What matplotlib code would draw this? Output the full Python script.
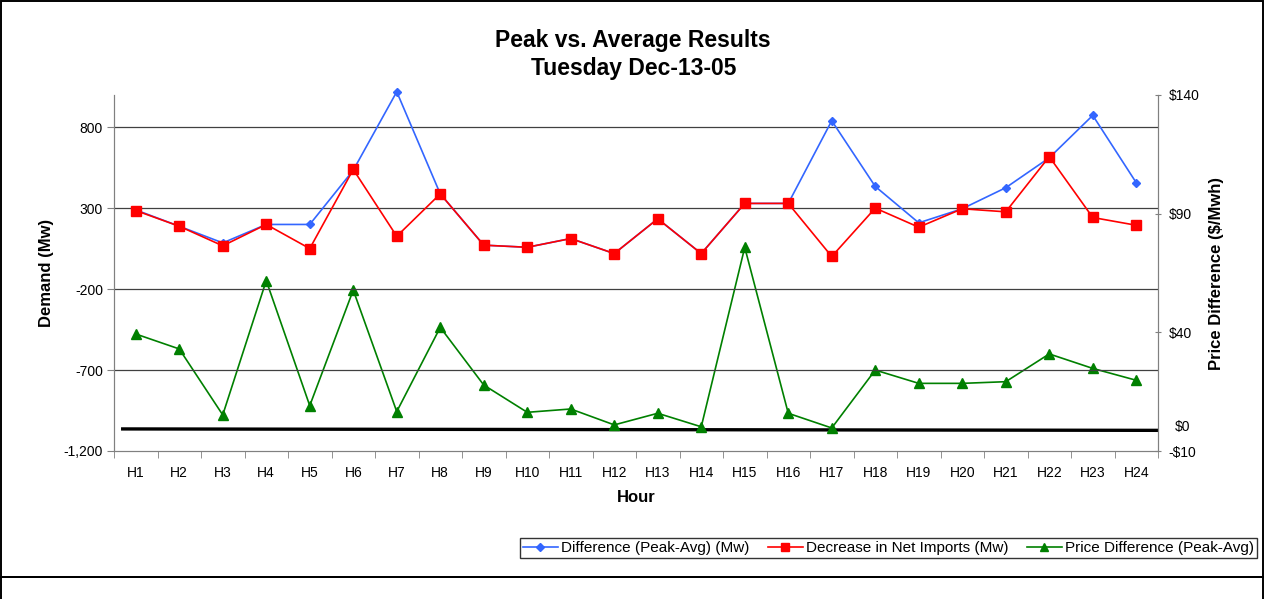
import numpy as np
import matplotlib
matplotlib.use('Agg')
from matplotlib import pyplot as plt
from matplotlib.patches import Rectangle
from matplotlib.lines import Line2D

plt.rcParams['font.family'] = ['Liberation Sans', 'DejaVu Sans']

#### DATA ####
hours = ['H' + str(i) for i in range(1, 25)]

diff_mw = [290, 189, 86, 200, 200, 535, 1020, 389, 72, 59, 113, 20,
           235, 20, 330, 330, 841, 435, 210, 297, 427, 612, 874, 458]
net_imports = [286, 189, 68, 200, 51, 540, 127, 389, 72, 59, 113, 20,
               235, 20, 330, 330, 2, 301, 183, 297, 278, 619, 243, 195]
price_diff = [39.3, 33.0, 5.2, 61.8, 9.1, 57.8, 6.6, 42.1, 17.8, 6.3, 7.7, 1.0,
              5.9, 0.2, 75.8, 5.9, -0.3, 24.1, 18.5, 18.5, 19.2, 30.9, 24.8, 19.8]

# black base line (right axis)
baseline_x = [-0.3, 23.5]
baseline_y = [-0.7, -1.3]

left_ticks = [-1200, -700, -200, 300, 800]
left_labels = ['-1,200', '-700', '-200', '300', '800']
right_ticks = [-10, 40, 90, 140]
right_labels = ['-$10', '$40', '$90', '$140']

W, H = 1264, 599
fig = plt.figure(figsize=(W / 100, H / 100), dpi=100)

# outer frames
fig.add_artist(Rectangle((0.5 / W, 1 - 577 / H), 1 - 1.5 / W, 577 / H - 0.5 / H,
                         transform=fig.transFigure, fill=False, lw=1.4, ec='black'))
fig.add_artist(Rectangle((0.5 / W, -0.05), 1 - 1.5 / W, 1.05 - 577 / H,
                         transform=fig.transFigure, fill=False, lw=1.4, ec='black'))

x0, x1, y0, y1 = 114, 1158, 95, 451
ax = fig.add_axes([x0 / W, 1 - y1 / H, (x1 - x0) / W, (y1 - y0) / H])
ax2 = ax.twinx()

x = np.arange(len(hours))

ax.plot(x, diff_mw, color='#3366FF', lw=1.2, marker='D', ms=4.5,
        label='Difference (Peak-Avg) (Mw)', clip_on=False, zorder=3)
ax.plot(x, net_imports, color='#FF0000', lw=1.2, marker='s', ms=6.5,
        label='Decrease in Net Imports (Mw)', clip_on=False, zorder=4)

ax2.plot(baseline_x, baseline_y, color='black', lw=2.4, zorder=2)
ax2.plot(x, price_diff, color='#008000', lw=1.2, marker='^', ms=6.5,
         label='Price Difference (Peak-Avg)', clip_on=False, zorder=3)

ax.set_xlim(-0.5, 23.5)
ax.set_ylim(-1200, 1000)
ax2.set_ylim(-10, 140)

ax.set_yticks(left_ticks)
ax.set_yticklabels(left_labels)
ax2.set_yticks(right_ticks)
ax2.set_yticklabels(right_labels)
ax2.text(1.016, 0, '$0', transform=ax2.get_yaxis_transform(), ha='left',
         va='center', fontsize=10)

ax.set_xticks(x)
ax.set_xticklabels(hours)
ax.set_xticks(np.arange(-0.5, 24, 1), minor=True)
ax.tick_params(axis='x', which='major', length=0, pad=11, labelsize=10)
ax.tick_params(axis='x', which='minor', length=5, direction='out', color='#808080')
ax.tick_params(axis='y', length=5, direction='out', color='#808080', labelsize=10, pad=3)
ax2.tick_params(axis='y', length=5, direction='inout', color='#808080', labelsize=10, pad=5)

for y in [-700, -200, 300, 800]:
    ax.axhline(y, color='#404040', lw=0.9, zorder=1)

for a in (ax, ax2):
    a.spines['top'].set_visible(False)
    a.spines['left'].set_color('#808080')
    a.spines['right'].set_color('#808080')
    a.spines['bottom'].set_color('#808080')
ax.set_zorder(ax2.get_zorder() + 1)
ax.patch.set_visible(False)

fig.text(0.501, 1 - 41 / H, 'Peak vs. Average Results', ha='center', va='center',
         fontsize=16.5, fontweight='bold')
fig.text(0.501, 1 - 68 / H, 'Tuesday Dec-13-05', ha='center', va='center',
         fontsize=16.5, fontweight='bold')
fig.text(636 / W, 1 - 497 / H, 'Hour', ha='center', va='center',
         fontsize=12, fontweight='bold')
fig.text(46.5 / W, 1 - 273 / H, 'Demand (Mw)', ha='center', va='center',
         fontsize=12, fontweight='bold', rotation=90)
fig.text(1217 / W, 1 - 274 / H, 'Price Difference ($/Mwh)', ha='center', va='center',
         fontsize=12, fontweight='bold', rotation=90)

handles = [Line2D([], [], color='#3366FF', lw=1.2, marker='D', ms=4.5),
           Line2D([], [], color='#FF0000', lw=1.2, marker='s', ms=6),
           Line2D([], [], color='#008000', lw=1.2, marker='^', ms=6)]
labels = ['Difference (Peak-Avg) (Mw)', 'Decrease in Net Imports (Mw)',
          'Price Difference (Peak-Avg)']
leg = fig.legend(handles, labels, loc='lower right', ncol=3,
                 bbox_to_anchor=(1257 / W, 1 - 558 / H), fontsize=11,
                 frameon=True, fancybox=False, edgecolor='black',
                 borderpad=0.2, handlelength=2.3, handletextpad=0.2,
                 columnspacing=1.2, borderaxespad=0)
leg.get_frame().set_linewidth(1.0)

fig.savefig('out.png', dpi=100)
